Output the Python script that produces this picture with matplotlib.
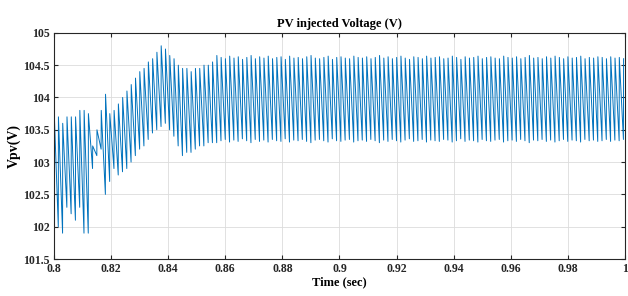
import numpy as np
import matplotlib
matplotlib.use("Agg")
import matplotlib.pyplot as plt

# one switching cycle every 1.5 ms
period = 0.0015
cycle_start = np.arange(0.8, 1.0, period)

# per-cycle low (trough) and high (peak) values of Vpv
trough_start = [102.0, 102.0, 101.9, 102.3, 102.2, 102.1, 102.3, 101.9, 101.9,
                102.9, 103.1, 103.2, 102.5, 102.7, 102.9,
                102.8, 102.85, 102.9, 103.0, 103.1, 103.2, 103.25, 103.35, 103.45, 103.5,
                103.55, 103.6, 103.5, 103.4, 103.25, 103.1, 103.15, 103.15, 103.2,
                103.25, 103.25, 103.3, 103.3, 103.3]
peak_start = [103.8, 103.7, 103.6, 103.7, 103.7, 103.7, 103.8, 103.8, 103.75,
              103.25, 103.5, 103.8, 104.05, 103.75, 103.8,
              103.9, 104.0, 104.1, 104.2, 104.3, 104.4, 104.45, 104.55, 104.6, 104.7,
              104.8, 104.75, 104.65, 104.6, 104.5, 104.45, 104.45, 104.4, 104.45,
              104.45, 104.5, 104.5, 104.55, 104.65]

peak_steady = [104.62, 104.60, 104.64, 104.61, 104.63, 104.59, 104.62, 104.65, 104.60, 104.63,
               104.61, 104.64, 104.60, 104.62, 104.63, 104.59, 104.64, 104.61, 104.62, 104.60,
               104.63, 104.65, 104.61, 104.60, 104.62, 104.64, 104.59, 104.62, 104.63, 104.61,
               104.60, 104.64, 104.62, 104.61, 104.63, 104.60, 104.62, 104.65, 104.61, 104.63,
               104.60, 104.62, 104.64, 104.61, 104.59, 104.63, 104.62, 104.60, 104.64, 104.61,
               104.62, 104.63, 104.60, 104.61, 104.64, 104.62, 104.59, 104.63, 104.61, 104.62,
               104.64, 104.60, 104.62, 104.63, 104.61, 104.60, 104.64, 104.62, 104.61, 104.63,
               104.60, 104.62, 104.65, 104.61, 104.62, 104.60, 104.63, 104.61, 104.64, 104.62,
               104.60, 104.63, 104.61, 104.62, 104.64, 104.60, 104.62, 104.61, 104.63, 104.62,
               104.60, 104.63, 104.61, 104.62, 104.60]
trough_steady = [103.33, 103.35, 103.31, 103.34, 103.32, 103.36, 103.33, 103.30, 103.35, 103.32,
                 103.34, 103.31, 103.35, 103.33, 103.32, 103.36, 103.31, 103.34, 103.33, 103.35,
                 103.32, 103.30, 103.34, 103.35, 103.33, 103.31, 103.36, 103.33, 103.32, 103.34,
                 103.35, 103.31, 103.33, 103.34, 103.32, 103.35, 103.33, 103.30, 103.34, 103.32,
                 103.35, 103.33, 103.31, 103.34, 103.36, 103.32, 103.33, 103.35, 103.31, 103.34,
                 103.33, 103.32, 103.35, 103.34, 103.31, 103.33, 103.36, 103.32, 103.34, 103.33,
                 103.31, 103.35, 103.33, 103.32, 103.34, 103.35, 103.31, 103.33, 103.34, 103.32,
                 103.35, 103.33, 103.30, 103.34, 103.33, 103.35, 103.32, 103.34, 103.31, 103.33,
                 103.35, 103.32, 103.34, 103.33, 103.31, 103.35, 103.33, 103.34, 103.32, 103.33,
                 103.35, 103.32, 103.34, 103.33, 103.35]

troughs = np.array(trough_start + trough_steady)
peaks = np.array(peak_start + peak_steady)
n = min(len(cycle_start), len(troughs))

# sawtooth: sharp rise trough->peak, then ramp down to the next trough
t = np.repeat(cycle_start[:n], 2)
t[1::2] += 0.00005
v = np.empty(2 * n)
v[0::2] = troughs[:n]
v[1::2] = peaks[:n]

xticks = [0.8, 0.82, 0.84, 0.86, 0.88, 0.9, 0.92, 0.94, 0.96, 0.98, 1.0]
xlabels = ["0.8", "0.82", "0.84", "0.86", "0.88", "0.9", "0.92", "0.94", "0.96", "0.98", "1"]
yticks = [101.5, 102, 102.5, 103, 103.5, 104, 104.5, 105]
ylabels = ["101.5", "102", "102.5", "103", "103.5", "104", "104.5", "105"]

plt.rcParams['font.family'] = ['Liberation Serif', 'DejaVu Serif']
plt.rcParams['font.weight'] = 'bold'

fig = plt.figure(figsize=(6.28, 2.96), dpi=100)
ax = fig.add_axes([0.086, 0.125, 0.909, 0.764])
ax.plot(t, v, color='#0072BD', lw=0.7)

ax.set_xlim(0.8, 1.0)
ax.set_ylim(101.5, 105)
ax.set_xticks(xticks)
ax.set_xticklabels(xlabels)
ax.set_yticks(yticks)
ax.set_yticklabels(ylabels)
ax.tick_params(direction='in', top=True, right=True, length=3, labelsize=8.5,
               colors='#262626', pad=3)
ax.grid(True, color='#dcdcdc', lw=0.6)
for s in ax.spines.values():
    s.set_color('#262626')
    s.set_linewidth(0.8)

ax.set_title("PV injected Voltage (V)", fontsize=9, fontweight='bold', pad=4)
ax.set_xlabel("Time (sec)", fontsize=9, fontweight='bold', labelpad=1)
ax.set_ylabel("Vpv(V)", fontsize=10, fontweight='bold', labelpad=2)

fig.savefig("out.png", dpi=100)
